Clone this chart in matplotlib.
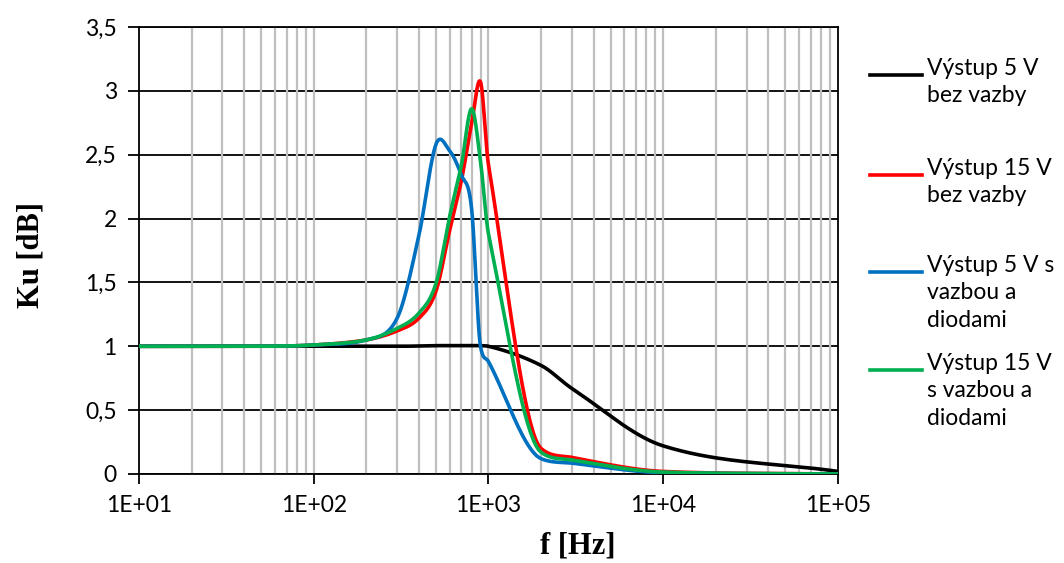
import numpy as np
import matplotlib.pyplot as plt
from matplotlib.lines import Line2D
from matplotlib.ticker import FixedLocator, FuncFormatter, NullFormatter

freq = [10, 20, 50, 100, 200, 300, 400, 500, 600, 700, 800, 900, 1000, 2000, 3000, 10000, 100000]
ku_5v = [1.0, 1.0, 1.0, 1.0, 1.0, 1.0, 1.002, 1.005, 1.005, 1.005, 1.005, 1.005, 1.0, 0.85, 0.67, 0.22, 0.02]
ku_15v = [1.0, 1.0, 1.0, 1.01, 1.05, 1.12, 1.22, 1.43, 1.91, 2.30, 2.74, 3.07, 2.42, 0.2, 0.13, 0.02, 0.0]
ku_5v_diody = [1.0, 1.0, 1.0, 1.01, 1.05, 1.22, 1.87, 2.58, 2.53, 2.34, 2.08, 1.0, 0.88, 0.12, 0.085, 0.01, 0.0]
ku_15v_diody = [1.0, 1.0, 1.0, 1.01, 1.05, 1.14, 1.26, 1.49, 2.02, 2.42, 2.86, 2.45, 1.88, 0.17, 0.11, 0.015, 0.0]

labels = ["Výstup 5 V\nbez vazby", "Výstup 15 V\nbez vazby",
          "Výstup 5 V s\nvazbou a\ndiodami", "Výstup 15 V\ns vazbou a\ndiodami"]
colors = ["#000000", "#ff0000", "#0070c0", "#00b050"]

xticks = [1e1, 1e2, 1e3, 1e4, 1e5]
yticks = [0, 0.5, 1, 1.5, 2, 2.5, 3, 3.5]

FONT = "Lato"


def smooth(x, y, n=40):
    # smoothed line through the points in log-x, tangents limited to avoid big overshoot
    u = np.log10(np.asarray(x, float))
    v = np.asarray(y, float)
    h = np.diff(u)
    d = np.diff(v) / h
    m = np.zeros_like(v)
    for k in range(1, len(v) - 1):
        c = (v[k + 1] - v[k - 1]) / (u[k + 1] - u[k - 1])
        if d[k - 1] * d[k] > 0:
            lim = 3 * min(abs(d[k - 1]), abs(d[k]))
            c = np.sign(c) * min(abs(c), lim)
        m[k] = c
    m[0], m[-1] = d[0], d[-1]
    xs, ys = [], []
    t = np.linspace(0, 1, n)
    h00 = 2 * t ** 3 - 3 * t ** 2 + 1
    h10 = t ** 3 - 2 * t ** 2 + t
    h01 = -2 * t ** 3 + 3 * t ** 2
    h11 = t ** 3 - t ** 2
    for k in range(len(h)):
        xs.append(u[k] + t * h[k])
        ys.append(h00 * v[k] + h10 * h[k] * m[k] + h01 * v[k + 1] + h11 * h[k] * m[k + 1])
    return 10 ** np.concatenate(xs), np.concatenate(ys)


fig = plt.figure(figsize=(10.64, 5.63), dpi=100)
ax = fig.add_axes([139 / 1064, 89 / 563, 699 / 1064, 447 / 563])

for ys, c in zip([ku_5v, ku_15v, ku_5v_diody, ku_15v_diody], colors):
    xs, yy = smooth(freq, ys)
    ax.plot(xs, yy, color=c, lw=2.6, solid_capstyle="round", zorder=3)

ax.set_xscale("log")
ax.set_xlim(1e1, 1e5)
ax.set_ylim(0, 3.5)

ax.xaxis.set_major_locator(FixedLocator(xticks))
ax.xaxis.set_minor_locator(FixedLocator([m * 10 ** d for d in range(1, 5) for m in range(2, 10)]))
ax.xaxis.set_minor_formatter(NullFormatter())
ax.xaxis.set_major_formatter(FuncFormatter(lambda v, p: "1E+%02d" % round(np.log10(v))))
ax.yaxis.set_major_locator(FixedLocator(yticks))
ax.yaxis.set_major_formatter(FuncFormatter(lambda v, p: ("%g" % v).replace(".", ",")))

# grid: grey verticals at every value, black horizontals
for v in [m * 10 ** d for d in range(1, 5) for m in range(1, 10)][1:]:
    ax.axvline(v, color="#bfbfbf", lw=1.6, zorder=1)
ax.grid(axis="y", which="major", color="black", lw=1.3, zorder=2)
ax.set_axisbelow(True)

for s in ax.spines.values():
    s.set_color("black")
    s.set_linewidth(1.3)

ax.tick_params(axis="x", which="major", direction="out", length=7, width=1.3, pad=8)
ax.tick_params(axis="x", which="minor", length=0)
ax.tick_params(axis="y", direction="out", length=8, width=1.3, pad=8)
for lab in ax.get_xticklabels() + ax.get_yticklabels():
    lab.set_fontfamily(FONT)
    lab.set_fontsize(16.5)
    lab.set_color("#000000")

fig.text(31 / 1064, 1 - 255 / 563, "Ku [dB]", rotation=90, ha="center", va="center",
         family="Liberation Serif", weight="bold", fontsize=22)
fig.text(578 / 1064, 1 - 546 / 563, "f [Hz]", ha="center", va="center",
         family="Liberation Serif", weight="bold", fontsize=22)

# legend drawn by hand to keep excel's layout
leg_y = [75, 175, 272, 370]
for lab, c, y in zip(labels, colors, leg_y):
    fig.add_artist(Line2D([870 / 1064, 922 / 1064], [1 - y / 563] * 2, color=c, lw=2.6,
                          transform=fig.transFigure))
    fig.text(927 / 1064, 1 - (y - 17) / 563, lab, ha="left", va="top", family=FONT,
             fontsize=16.5, linespacing=1.38)

fig.savefig("out.png", dpi=100)
